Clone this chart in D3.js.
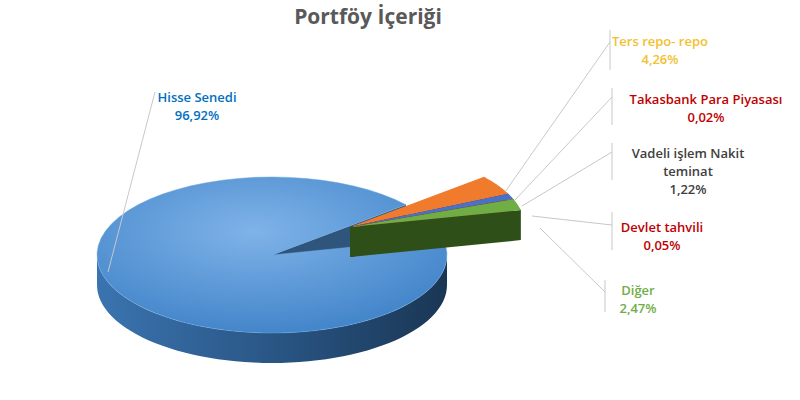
<!DOCTYPE html><html><head><meta charset="utf-8">
<script src="https://cdn.jsdelivr.net/npm/d3@7"></script>
<style>body{margin:0;background:#fff}</style></head><body>
<svg id="c" width="800" height="400"></svg>
<script>
const categories=["Hisse Senedi","Ters repo- repo","Takasbank Para Piyasası","Vadeli işlem Nakit teminat","Devlet tahvili","Diğer"];
const values=[96.92,4.26,0.02,1.22,0.05,2.47];
const labels=["96,92%","4,26%","0,02%","1,22%","0,05%","2,47%"];
const topCol=["#5d9ddc","#f07b2c","#d04030","#4a72c4","#c04040","#6fae45"];
const wallCol=["#2b5a8a","#b05418","#902020","#2c4a90","#902020","#2f4f18"];
const labelCol=["#0070c0","#f2c12e","#c00000","#404040","#c00000","#70ad47"];
const labPos=[[197,102],[660,46],[706,104],[688,158],[662,232],[638,295]];
const lines=[[[108,272],[155,92]],[[505,192],[610,42]],[[515,200],[612,97]],[[522,206],[612,152]],[[532,216],[612,225]],[[540,228],[605,292]]];
const stubs=[[610,30,70],[612,88,125],[612,143,180],[612,212,250],[605,280,312]];
const svg=d3.select("#c");
const defs=svg.append("defs");
const g=defs.append("radialGradient").attr("id","mg").attr("cx","45%").attr("cy","35%").attr("r","70%");
g.append("stop").attr("offset","0").attr("stop-color","#7fb3e8");
g.append("stop").attr("offset","1").attr("stop-color","#3f82c8");
const wg=defs.append("linearGradient").attr("id","wg");
wg.append("stop").attr("offset","0").attr("stop-color","#3a74b0");
wg.append("stop").attr("offset","0.6").attr("stop-color","#26507c");
wg.append("stop").attr("offset","1").attr("stop-color","#1a3654");
svg.append("text").attr("x",368).attr("y",24).attr("text-anchor","middle").attr("font-family","Open Sans, sans-serif").attr("font-weight","bold").attr("font-size",21).attr("fill","#595959").text("Portföy İçeriği");
const cx=272,cy=255,rx=175,ry=78,dep=30;
const start=-12.5*Math.PI/180;
const pie=d3.pie().sort(null).startAngle(start).endAngle(start+2*Math.PI).value(d=>d);
const arcs=pie(values);
const pt=(o,t,dy)=>[o[0]+cx+rx*Math.cos(t),o[1]+cy+ry*Math.sin(t)+dy];
const off=i=>i===0?[0,0]:[78,-28];
const line=d3.line();
function drawSlice(i){
  const a=arcs[i],o=off(i),t0=a.startAngle,t1=a.endAngle,n=60;
  const c=[o[0]+cx,o[1]+cy];
  if(Math.cos(t1)>0){
    const p=pt(o,t1,0),pb=pt(o,t1,dep);
    svg.append("path").attr("d",line([c,p,pb,[c[0],c[1]+dep]])+"Z").attr("fill",i===0?"#2f557d":wallCol[i]);
  }
  let segs=[];
  for(let k=-1;k<=1;k++){const lo=Math.max(t0,k*2*Math.PI),hi=Math.min(t1,k*2*Math.PI+Math.PI);if(hi>lo)segs.push([lo,hi]);}
  segs.forEach(([lo,hi])=>{
    const tp=d3.range(n+1).map(j=>pt(o,lo+(hi-lo)*j/n,0));
    const bt=d3.range(n+1).map(j=>pt(o,hi-(hi-lo)*j/n,dep));
    svg.append("path").attr("d",line(tp.concat(bt))+"Z").attr("fill",i===0?"url(#wg)":wallCol[i]);
  });
  const tp=d3.range(n+1).map(j=>pt(o,t0+(t1-t0)*j/n,0));
  svg.append("path").attr("d",line([c].concat(tp))+"Z").attr("fill",i===0?"url(#mg)":topCol[i]).attr("stroke",i===0?"#6aa6e0":"none").attr("stroke-width",0.5);
}
[0,1,2,3,4,5].forEach(drawSlice);
lines.forEach(l=>svg.append("path").attr("d",line(l)).attr("stroke","#c8c8c8").attr("fill","none"));
stubs.forEach(s=>svg.append("line").attr("x1",s[0]).attr("x2",s[0]).attr("y1",s[1]).attr("y2",s[2]).attr("stroke","#c8c8c8"));
categories.forEach((cat,i)=>{
  const t=svg.append("text").attr("text-anchor","middle").attr("font-family","Open Sans, sans-serif").attr("font-size",13).attr("fill",labelCol[i]).attr("font-weight","600");
  const parts=i===3?["Vadeli işlem Nakit","teminat",labels[i]]:[cat,labels[i]];
  parts.forEach((p,j)=>t.append("tspan").attr("x",labPos[i][0]).attr("y",labPos[i][1]+j*18).text(p));
});
</script></body></html>
